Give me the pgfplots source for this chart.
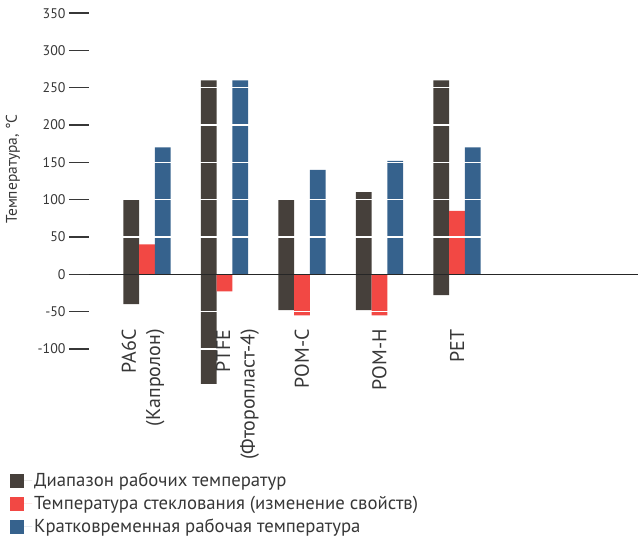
\documentclass[border=0pt]{standalone}
\usepackage{fontspec}
\setmainfont{PT Sans}
\usepackage{pgfplots}
\pgfplotsset{compat=1.18}

\definecolor{rangecol}{RGB}{70,64,59}
\definecolor{glasscol}{RGB}{242,72,68}
\definecolor{shortcol}{RGB}{54,98,141}
\definecolor{txt}{RGB}{55,55,55}

\begin{document}
\begin{tikzpicture}
\useasboundingbox (-69bp,-153.8bp) rectangle (569bp,386.2bp);
\begin{axis}[
    at={(0,0)}, anchor=south west,
    scale only axis,
    width=569bp, height=373bp,
    xmin=-1.006, xmax=6.335,
    ymin=-150, ymax=350,
    axis on top,
    axis lines*=left,
    axis line style={draw=none},
    xtick style={draw=none},
    ytick={-100,-50,...,350},
    tick align=inside,
    major tick length=20bp,
    ytick style={draw=txt, line width=1.4bp},
    /pgf/number format/assume math mode=true,
    yticklabel style={font=\fontsize{14}{16}\selectfont, text=txt},
    xtick={-0.05,1.168,2,3,4},
    xticklabels={{PA6C\\(Капролон)},{PTFE\\(Фторопласт-4)},POM-C,POM-H,PET},
    xticklabel style={yshift=57bp, rotate=90, anchor=east, align=right,
        inner sep=0pt, font=\fontsize{20}{24.5}\selectfont, text=txt},
    ylabel={Температура, °C},
    ylabel style={at={(axis description cs:-0.0984,0.5823)}, anchor=center,
        font=\fontsize{15.5}{17}\selectfont, text=txt},
    legend style={at={(axis description cs:-0.109,-0.222)}, anchor=north west,
        draw=none, fill=none, font=\fontsize{18.8}{20}\selectfont, text=txt,
        legend cell align=left, row sep=4bp},
]
% working range, upper and lower parts
\addplot[ybar, bar width=15.7bp, bar shift=-15.7bp, fill=rangecol, draw=none,
    legend image code/.code={\fill[rangecol] (0bp,-7bp) rectangle (14bp,7bp);
        \path (0bp,0bp) -- (22bp,0bp);}]
    coordinates {(0,100) (1,260) (2,100) (3,110) (4,260)};
\addlegendentry{Диапазон рабочих температур}
\addplot[ybar, bar width=15.7bp, bar shift=-15.7bp, fill=rangecol, draw=none, forget plot]
    coordinates {(0,-40) (1,-147) (2,-48) (3,-48) (4,-28)};
% glass transition
\addplot[ybar, bar width=15.7bp, bar shift=0bp, fill=glasscol, draw=none,
    legend image code/.code={\fill[glasscol] (0bp,-7bp) rectangle (14bp,7bp);
        \path (0bp,0bp) -- (22bp,0bp);}]
    coordinates {(0,40) (1,-23) (2,-55) (3,-55) (4,85)};
\addlegendentry{Температура стеклования (изменение свойств)}
% short-term
\addplot[ybar, bar width=15.7bp, bar shift=15.7bp, fill=shortcol, draw=none,
    legend image code/.code={\fill[shortcol] (0bp,-7bp) rectangle (14bp,7bp);
        \path (0bp,0bp) -- (22bp,0bp);}]
    coordinates {(0,170) (1,260) (2,140) (3,152) (4,170)};
\addlegendentry{Кратковременная рабочая температура}

\pgfplotsinvokeforeach{-100,-50,50,100,150,200,250,300}{
    \draw[white, line width=1.3bp] (axis cs:-0.5,#1) -- (axis cs:4.5,#1);
}
\draw[black!85, line width=1.3bp] (axis cs:-1.006,0) -- (axis cs:6.335,0);
\end{axis}
\end{tikzpicture}
\end{document}
